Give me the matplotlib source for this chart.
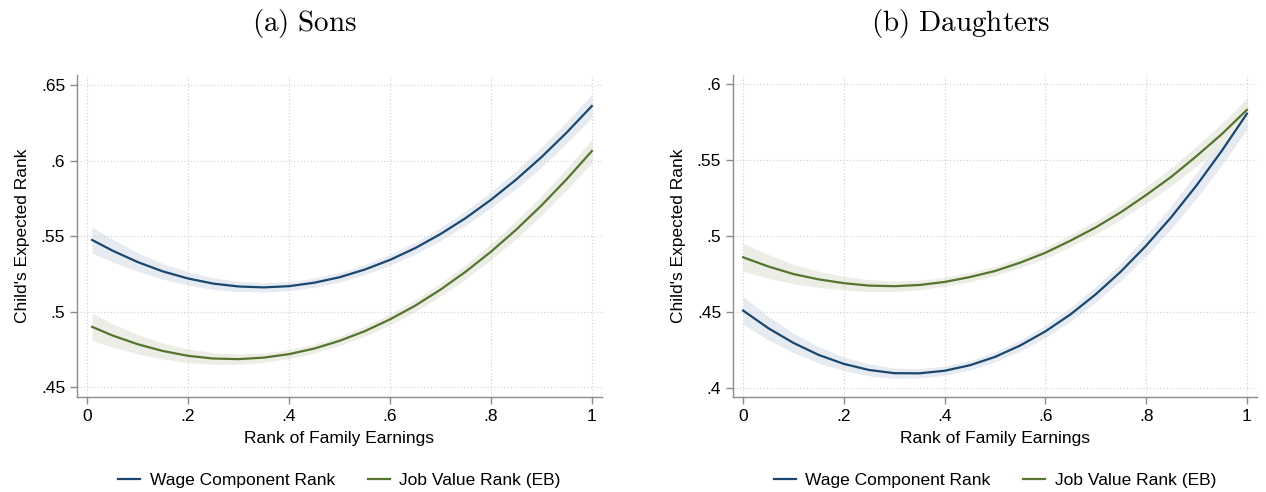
import numpy as np
import matplotlib.pyplot as plt

plt.rcParams['font.family'] = ['Liberation Sans', 'DejaVu Sans']
plt.rcParams['mathtext.fontset'] = 'cm'

# family earnings rank grid
x_sons = [0.01, 0.05, 0.10, 0.15, 0.20, 0.25, 0.30, 0.35, 0.40, 0.45, 0.50,
          0.55, 0.60, 0.65, 0.70, 0.75, 0.80, 0.85, 0.90, 0.95, 1.00]
x_daug = [0.00, 0.05, 0.10, 0.15, 0.20, 0.25, 0.30, 0.35, 0.40, 0.45, 0.50,
          0.55, 0.60, 0.65, 0.70, 0.75, 0.80, 0.85, 0.90, 0.95, 1.00]

# sons
sons_wage = [.5474, .5404, .5328, .5266, .5219, .5185, .5166, .5160, .5168, .5191, .5227,
             .5278, .5342, .5420, .5513, .5619, .5740, .5874, .6022, .6185, .6361]
sons_wage_ci = [.0086, .0075, .0062, .0052, .0044, .0038, .0034, .0031, .0030, .0030, .0031,
                .0033, .0036, .0039, .0043, .0048, .0053, .0059, .0065, .0071, .0077]
sons_job = [.4899, .4842, .4784, .4739, .4707, .4689, .4685, .4695, .4718, .4755, .4806,
            .4870, .4948, .5039, .5145, .5264, .5396, .5542, .5702, .5876, .6063]
sons_job_ci = [.0090, .0078, .0064, .0053, .0045, .0039, .0034, .0031, .0030, .0030, .0031,
               .0033, .0036, .0039, .0043, .0048, .0053, .0059, .0065, .0071, .0077]

# daughters
daug_wage = [.451, .4394, .4297, .4218, .4159, .4119, .4098, .4097, .4114, .415, .4205,
             .428, .4373, .4485, .4617, .4767, .4937, .5125, .5333, .556, .5805]
daug_wage_ci = [.0090, .0078, .0064, .0053, .0045, .0039, .0034, .0031, .0030, .0031, .0033,
                .0036, .0040, .0045, .0051, .0058, .0066, .0075, .0084, .0093, .0102]
daug_job = [.486, .480, .475, .4715, .469, .4674, .467, .4678, .4698, .473, .477,
            .4825, .489, .497, .5057, .5157, .527, .539, .5526, .567, .583]
daug_job_ci = [.0090, .0078, .0064, .0053, .0045, .0039, .0034, .0031, .0030, .0030, .0031,
               .0033, .0036, .0039, .0043, .0048, .0053, .0059, .0065, .0071, .0077]

blue = '#1a476f'
green = '#55752f'
blue_band = '#e6ebf2'
green_band = '#eceee6'
fs = 12.5

fig = plt.figure(figsize=(12.66, 4.92), dpi=100)
ax1 = fig.add_axes([0.0608, 0.193, 0.4147, 0.6545])
ax2 = fig.add_axes([0.579, 0.193, 0.4139, 0.6545])


def panel(ax, x, wage, wage_ci, job, job_ci, ylim, yticks, yticklabels):
    x = np.array(x)
    for y, ci, bc in [(wage, wage_ci, blue_band), (job, job_ci, green_band)]:
        y = np.array(y)
        ci = np.array(ci)
        ax.fill_between(x, y - ci, y + ci, color=bc, lw=0, zorder=1)
    ax.plot(x, wage, color=blue, lw=1.6, zorder=3, solid_joinstyle='round',
            label='Wage Component Rank')
    ax.plot(x, job, color=green, lw=1.6, zorder=3, solid_joinstyle='round',
            label='Job Value Rank (EB)')
    ax.set_xlim(-0.02, 1.02)
    ax.set_ylim(*ylim)
    ax.set_xticks([0, .2, .4, .6, .8, 1])
    ax.set_xticklabels(['0', '.2', '.4', '.6', '.8', '1'])
    ax.set_yticks(yticks)
    ax.set_yticklabels(yticklabels)
    ax.grid(True, color='#d0d0d0', ls=(0, (1, 2)), lw=0.8, zorder=0)
    for s in ['top', 'right']:
        ax.spines[s].set_visible(False)
    for s in ['left', 'bottom']:
        ax.spines[s].set_color('#8c8c8c')
        ax.spines[s].set_linewidth(1.0)
    ax.tick_params(colors='#8c8c8c', labelcolor='black', labelsize=fs, length=5, width=1)
    ax.set_xlabel('Rank of Family Earnings', fontsize=fs, labelpad=5)
    ax.set_ylabel("Child's Expected Rank", fontsize=fs, labelpad=8)
    ax.legend(loc='center', bbox_to_anchor=(0.5, -0.258), ncol=2, frameon=False,
              fontsize=fs, handlelength=1.25, columnspacing=1.9, handletextpad=0.55)


panel(ax1, x_sons, sons_wage, sons_wage_ci, sons_job, sons_job_ci,
      (0.4434, 0.6566), [.45, .5, .55, .6, .65], ['.45', '.5', '.55', '.6', '.65'])
panel(ax2, x_daug, daug_wage, daug_wage_ci, daug_job, daug_job_ci,
      (0.3941, 0.6059), [.4, .45, .5, .55, .6], ['.4', '.45', '.5', '.55', '.6'])

fig.text(0.241, 0.953, r'$\mathrm{(a)\ Sons}$', ha='center', va='center', fontsize=21)
fig.text(0.7587, 0.953, r'$\mathrm{(b)\ Daughters}$', ha='center', va='center', fontsize=21)

fig.savefig('out.png', dpi=100)
